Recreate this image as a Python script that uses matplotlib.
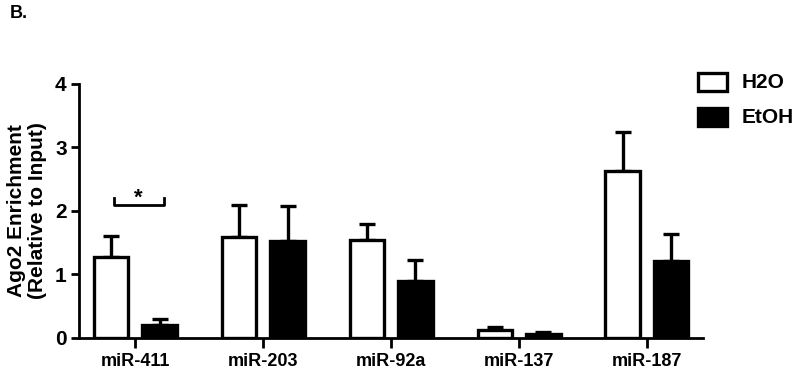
import numpy as np
import matplotlib.pyplot as plt
from matplotlib.patches import Rectangle

plt.rcParams['font.family'] = ['Liberation Sans', 'DejaVu Sans']
plt.rcParams['font.weight'] = 'bold'

categories = ["miR-411", "miR-203", "miR-92a", "miR-137", "miR-187"]
h2o = [1.28, 1.59, 1.54, 0.12, 2.63]
h2o_err = [0.33, 0.51, 0.25, 0.05, 0.62]
etoh = [0.20, 1.53, 0.90, 0.06, 1.21]
etoh_err = [0.10, 0.55, 0.33, 0.04, 0.42]

fig = plt.figure(figsize=(8, 3.7), dpi=100)
ax = fig.add_axes([0.099, 0.0865, 0.78, 0.6865])

x = np.arange(len(categories))
w = 0.27
off = 0.19
lw = 2.4
ax.bar(x - off, h2o, w, color="white", edgecolor="black", linewidth=lw, zorder=3)
ax.bar(x + off, etoh, w, color="black", edgecolor="black", linewidth=lw, zorder=3)
ax.errorbar(x - off, h2o, yerr=[np.zeros(len(h2o)), h2o_err], fmt="none",
            ecolor="black", elinewidth=lw, capsize=6, capthick=lw, zorder=2)
ax.errorbar(x + off, etoh, yerr=[np.zeros(len(etoh)), etoh_err], fmt="none",
            ecolor="black", elinewidth=lw, capsize=6, capthick=lw, zorder=2)

# significance bracket for miR-411
bx0, bx1, by = x[0] - 0.17, x[0] + 0.22, 2.09
ax.plot([bx0, bx0, bx1, bx1], [2.2, by, by, 2.2], color="black", lw=2, clip_on=False)
ax.text(x[0] + 0.02, 2.2, "*", ha="center", va="center", fontsize=16, fontweight="bold")

ax.set_xlim(-0.44, 4.44)
ax.set_ylim(0, 4)
ax.set_yticks([0, 1, 2, 3, 4])
ax.set_xticks(x)
ax.set_xticklabels(categories, fontsize=13, fontweight="bold")
ax.tick_params(axis="y", labelsize=15, width=2, length=6, pad=3)
ax.tick_params(axis="x", width=2, length=7, direction="out", pad=4)
for lab in ax.get_yticklabels():
    lab.set_fontweight("bold")
for s in ["top", "right"]:
    ax.spines[s].set_visible(False)
for s in ["left", "bottom"]:
    ax.spines[s].set_linewidth(2)
ax.set_ylabel("Ago2 Enrichment\n(Relative to Input)", fontsize=15, fontweight="bold",
              labelpad=6, linespacing=1.1)

# legend drawn in figure coords
for i, (lbl, fc) in enumerate([("H2O", "white"), ("EtOH", "black")]):
    yb = 1 - (91 + i * 35) / 370
    fig.patches.append(Rectangle((698 / 800, yb), 29 / 800, 18 / 370, transform=fig.transFigure,
                                 facecolor=fc, edgecolor="black", linewidth=2.4))
    fig.text(742 / 800, yb + 9 / 370, lbl, fontsize=15, fontweight="bold", va="center")

fig.text(10 / 800, 1 - 14 / 370, "B.", fontsize=13, fontweight="bold", va="center")

fig.savefig("out.png", dpi=100)
